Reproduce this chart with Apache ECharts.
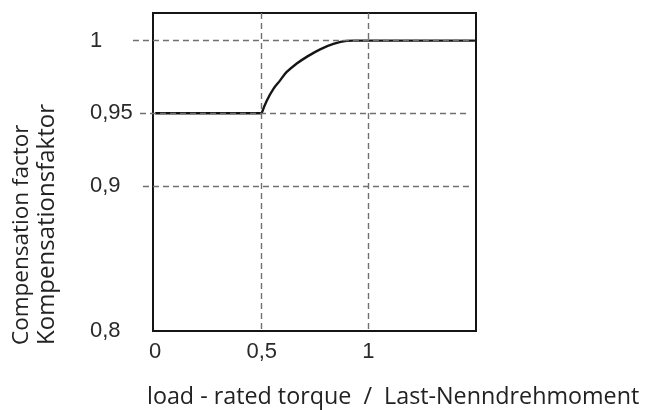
<!DOCTYPE html>
<html>
<head>
<meta charset="utf-8">
<script src="https://cdn.jsdelivr.net/npm/echarts@6/dist/echarts.min.js"></script>
<style>html,body{margin:0;padding:0;background:#fff;}#c{width:651px;height:410px;}</style>
</head>
<body>
<div id="c"></div>
<script>
// Data
const xTickValues = [0, 0.5, 1];
const yTickValues = [0.8, 0.9, 0.95, 1];
const flatLowX = [0, 0.5];
const flatLowY = [0.95, 0.95];
const riseX = [0.5, 0.5235, 0.5549, 0.5863, 0.6173, 0.6642, 0.7111, 0.7739, 0.8363, 0.8987, 0.93];
const riseY = [0.95, 0.9586, 0.9668, 0.9726, 0.9784, 0.9842, 0.9888, 0.9940, 0.9977, 0.9998, 1.0];
const flatHighX = [0.93, 1.5];
const flatHighY = [1.0, 1.0];
const hGridValues = [1, 0.95, 0.9];
const hGridStarts = [-0.104, -0.071, -0.057];
const vGridValues = [0.5, 1];
const xTitle = 'load - rated torque  /  Last-Nenndrehmoment';
const yTitle1 = 'Compensation factor';
const yTitle2 = 'Kompensationsfaktor';

const X_MIN = -0.01, X_MAX = 1.505, Y_MIN = 0.8, Y_MAX = 1.019;
const X_MIN_WIDE = -0.104; // extended range for the gridlines that reach past the left frame
const fmt = v => String(v).replace('.', ',');
const pairs = (xs, ys) => xs.map((x, i) => [x, ys[i]]);

const chart = echarts.init(document.getElementById('c'), null, {renderer: 'canvas'});

const pxPerUnit = (651 - 153 - 175) / (X_MAX - X_MIN);
const wideLeft = 153 - (X_MIN - X_MIN_WIDE) * pxPerUnit;

const hMarks = hGridValues.map((v, i) => [{coord: [hGridStarts[i], v]}, {coord: [1.475, v]}]);
const vMarks = vGridValues.map(v => [{coord: [v, Y_MAX]}, {coord: [v, Y_MIN]}]);
const dashStyle = {type: [6, 4], color: '#707070', width: 1.4};
const curveStyle = {color: '#151515', width: 2.4};
const labelStyle = {fontFamily: 'Liberation Sans', fontSize: 22, color: '#2a2a2a'};

const titleFont = '"Open Sans", sans-serif';
const option = {
  animation: false,
  backgroundColor: '#fff',
  grid: [
    {left: 153, top: 13, right: 175, bottom: 79, show: true, borderColor: '#151515', borderWidth: 2, backgroundColor: 'transparent', z: 4},
    {left: wideLeft, top: 13, right: 175, bottom: 79, show: false}
  ],
  xAxis: [{
    gridIndex: 0, type: 'value', min: X_MIN, max: X_MAX,
    axisLine: {show: false}, axisTick: {show: false}, splitLine: {show: false},
    axisLabel: Object.assign({customValues: xTickValues, formatter: fmt, margin: 10}, labelStyle)
  }, {
    gridIndex: 1, type: 'value', min: X_MIN_WIDE, max: X_MAX, show: false
  }],
  yAxis: [{
    gridIndex: 0, type: 'value', min: Y_MIN, max: Y_MAX,
    axisLine: {show: false}, axisTick: {show: false}, splitLine: {show: false},
    axisLabel: Object.assign({customValues: yTickValues, formatter: fmt, align: 'left', margin: 63}, labelStyle)
  }, {
    gridIndex: 1, type: 'value', min: Y_MIN, max: Y_MAX, show: false
  }],
  series: [{
    type: 'line', xAxisIndex: 1, yAxisIndex: 1, data: [], z: 1, silent: true,
    markLine: {silent: true, symbol: 'none', label: {show: false}, lineStyle: dashStyle, emphasis: {disabled: true}, data: hMarks}
  }, {
    type: 'line', xAxisIndex: 0, yAxisIndex: 0, data: [], z: 1, silent: true,
    markLine: {silent: true, symbol: 'none', label: {show: false}, lineStyle: dashStyle, emphasis: {disabled: true}, data: vMarks}
  }, {
    type: 'line', data: pairs(flatLowX, flatLowY), symbol: 'none', z: 3, lineStyle: curveStyle
  }, {
    type: 'line', data: pairs(riseX, riseY), symbol: 'none', smooth: 0.4, z: 3, lineStyle: curveStyle
  }, {
    type: 'line', data: pairs(flatHighX, flatHighY), symbol: 'none', z: 3, lineStyle: curveStyle
  }],
  graphic: [
    {type: 'text', x: 147, y: 397, style: {text: xTitle, font: '23.3px ' + titleFont, fill: '#222', textAlign: 'left', textVerticalAlign: 'middle'}},
    {type: 'text', x: 22, y: 345, rotation: Math.PI / 2, style: {text: yTitle1, font: '22.5px ' + titleFont, fill: '#222', textAlign: 'left', textVerticalAlign: 'middle'}},
    {type: 'text', x: 47.5, y: 345, rotation: Math.PI / 2, style: {text: yTitle2, font: '24px ' + titleFont, fill: '#222', textAlign: 'left', textVerticalAlign: 'middle'}}
  ]
};
chart.setOption(option);
</script>
</body>
</html>
